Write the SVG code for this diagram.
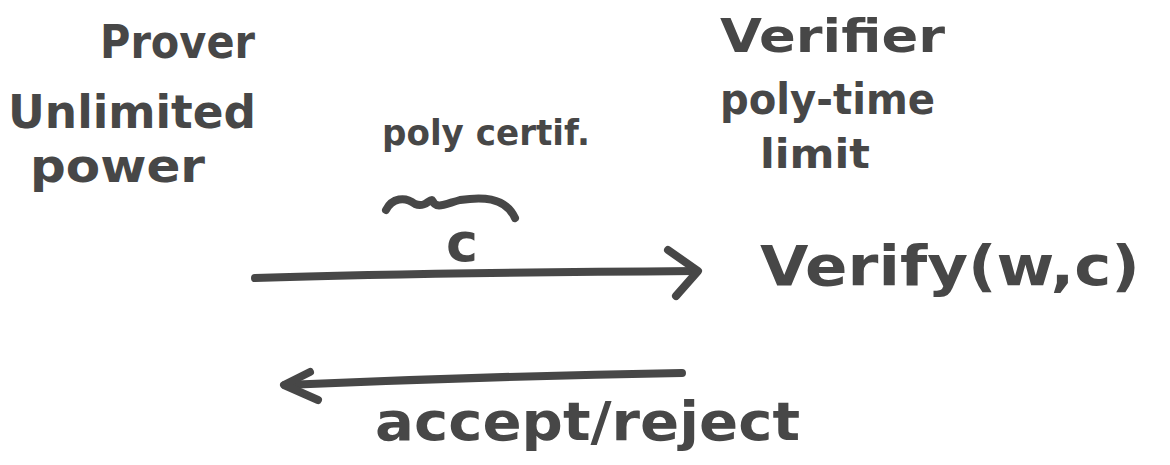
<svg xmlns="http://www.w3.org/2000/svg" width="1170" height="465" viewBox="0 0 1170 465">
<style>
.t{font-family:"DejaVu Sans","Liberation Sans",sans-serif;fill:#474747;font-weight:bold}
.ln{stroke:#474747;stroke-width:8;fill:none;stroke-linecap:round;stroke-linejoin:round}
</style>
<rect width="1170" height="465" fill="#ffffff"/>
<g id="prover">
<text class="t" x="100" y="58" font-size="46" textLength="155" lengthAdjust="spacingAndGlyphs">Prover</text>
<text class="t" x="8" y="128" font-size="46" textLength="248" lengthAdjust="spacingAndGlyphs">Unlimited</text>
<text class="t" x="30" y="182" font-size="46" textLength="175" lengthAdjust="spacingAndGlyphs">power</text>
</g>
<g id="verifier">
<text class="t" x="720" y="52" font-size="46" textLength="225" lengthAdjust="spacingAndGlyphs">Verifier</text>
<text class="t" x="720" y="114" font-size="42" textLength="215" lengthAdjust="spacingAndGlyphs">poly-time</text>
<text class="t" x="760" y="168" font-size="40" textLength="110" lengthAdjust="spacingAndGlyphs">limit</text>
<text class="t" x="760" y="285" font-size="56" textLength="380" lengthAdjust="spacingAndGlyphs">Verify(w,c)</text>
</g>
<g id="certificate">
<text class="t" x="382" y="145" font-size="36" textLength="208" lengthAdjust="spacingAndGlyphs">poly certif.</text>
<path class="ln" d="M386,210 C392,198 405,196 415,204 C425,208 428,200 432,200 C436,210 445,204 460,200 C480,197 505,196 515,218"/>
<text class="t" x="446" y="261" font-size="54">c</text>
</g>
<g id="connectors">
<path class="ln" d="M255,278 C380,274 560,272 696,271"/>
<path class="ln" d="M668,250 L698,271 L676,296"/>
<path class="ln" d="M682,373 C560,375 400,380 285,385"/>
<path class="ln" d="M310,372 L284,385 L318,400"/>
</g>
<g id="response">
<text class="t" x="375" y="440" font-size="54" textLength="425" lengthAdjust="spacingAndGlyphs">accept/reject</text>
</g>
</svg>
